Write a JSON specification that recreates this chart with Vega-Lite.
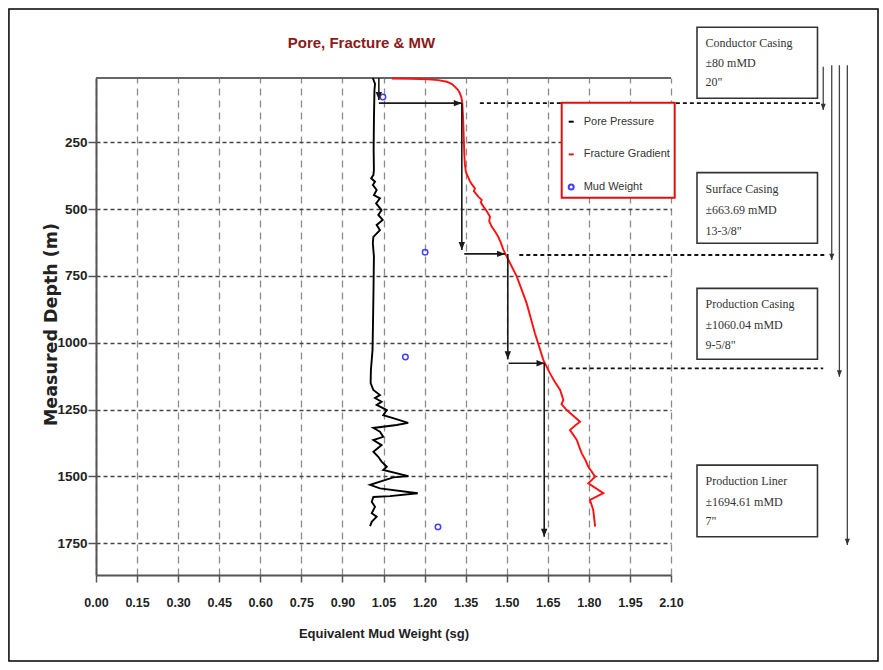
{
  "$schema": "https://vega.github.io/schema/vega-lite/v6.json",
  "autosize": {"type": "none"},
  "padding": {"left": 96, "top": 78, "right": 212, "bottom": 95},
  "width": 575,
  "height": 497,
  "background": "white",
  "title": {"text": "Pore, Fracture & MW", "font": "Liberation Sans", "fontSize": 15, "fontWeight": "bold", "color": "#8b1a1a", "anchor": "middle", "frame": "group", "dx": -22, "offset": -43},
  "datasets": {
    "frame": [{"x": -0.318, "x2": 2.856, "depth": -248, "depth2": 2191}],
    "topline": [{"x": 0, "x2": 2.1, "depth": 10}],
    "logs": [
      {"series": "Pore Pressure", "x": 1.011, "depth": 10},
      {"series": "Pore Pressure", "x": 1.015, "depth": 21},
      {"series": "Pore Pressure", "x": 1.019, "depth": 32},
      {"series": "Pore Pressure", "x": 1.017, "depth": 55},
      {"series": "Pore Pressure", "x": 1.015, "depth": 167},
      {"series": "Pore Pressure", "x": 1.014, "depth": 279},
      {"series": "Pore Pressure", "x": 1.015, "depth": 354},
      {"series": "Pore Pressure", "x": 1.013, "depth": 373},
      {"series": "Pore Pressure", "x": 1.005, "depth": 385},
      {"series": "Pore Pressure", "x": 1.019, "depth": 398},
      {"series": "Pore Pressure", "x": 1.011, "depth": 410},
      {"series": "Pore Pressure", "x": 1.025, "depth": 429},
      {"series": "Pore Pressure", "x": 1.015, "depth": 448},
      {"series": "Pore Pressure", "x": 1.037, "depth": 460},
      {"series": "Pore Pressure", "x": 1.023, "depth": 479},
      {"series": "Pore Pressure", "x": 1.043, "depth": 504},
      {"series": "Pore Pressure", "x": 1.031, "depth": 522},
      {"series": "Pore Pressure", "x": 1.047, "depth": 541},
      {"series": "Pore Pressure", "x": 1.025, "depth": 560},
      {"series": "Pore Pressure", "x": 1.037, "depth": 579},
      {"series": "Pore Pressure", "x": 1.013, "depth": 604},
      {"series": "Pore Pressure", "x": 1.011, "depth": 628},
      {"series": "Pore Pressure", "x": 1.015, "depth": 678},
      {"series": "Pore Pressure", "x": 1.013, "depth": 840},
      {"series": "Pore Pressure", "x": 1.010, "depth": 1027},
      {"series": "Pore Pressure", "x": 1.004, "depth": 1102},
      {"series": "Pore Pressure", "x": 1.003, "depth": 1151},
      {"series": "Pore Pressure", "x": 1.013, "depth": 1177},
      {"series": "Pore Pressure", "x": 1.037, "depth": 1196},
      {"series": "Pore Pressure", "x": 1.019, "depth": 1207},
      {"series": "Pore Pressure", "x": 1.043, "depth": 1221},
      {"series": "Pore Pressure", "x": 1.025, "depth": 1233},
      {"series": "Pore Pressure", "x": 1.062, "depth": 1252},
      {"series": "Pore Pressure", "x": 1.049, "depth": 1271},
      {"series": "Pore Pressure", "x": 1.085, "depth": 1282},
      {"series": "Pore Pressure", "x": 1.140, "depth": 1300},
      {"series": "Pore Pressure", "x": 1.098, "depth": 1308},
      {"series": "Pore Pressure", "x": 1.013, "depth": 1319},
      {"series": "Pore Pressure", "x": 1.037, "depth": 1333},
      {"series": "Pore Pressure", "x": 1.049, "depth": 1352},
      {"series": "Pore Pressure", "x": 1.013, "depth": 1364},
      {"series": "Pore Pressure", "x": 1.043, "depth": 1383},
      {"series": "Pore Pressure", "x": 1.013, "depth": 1408},
      {"series": "Pore Pressure", "x": 1.031, "depth": 1427},
      {"series": "Pore Pressure", "x": 1.043, "depth": 1445},
      {"series": "Pore Pressure", "x": 1.062, "depth": 1464},
      {"series": "Pore Pressure", "x": 1.049, "depth": 1476},
      {"series": "Pore Pressure", "x": 1.141, "depth": 1499},
      {"series": "Pore Pressure", "x": 1.086, "depth": 1504},
      {"series": "Pore Pressure", "x": 1.001, "depth": 1532},
      {"series": "Pore Pressure", "x": 1.037, "depth": 1545},
      {"series": "Pore Pressure", "x": 1.175, "depth": 1563},
      {"series": "Pore Pressure", "x": 1.074, "depth": 1574},
      {"series": "Pore Pressure", "x": 1.013, "depth": 1577},
      {"series": "Pore Pressure", "x": 1.007, "depth": 1595},
      {"series": "Pore Pressure", "x": 1.019, "depth": 1614},
      {"series": "Pore Pressure", "x": 1.007, "depth": 1638},
      {"series": "Pore Pressure", "x": 1.025, "depth": 1651},
      {"series": "Pore Pressure", "x": 1.007, "depth": 1670},
      {"series": "Pore Pressure", "x": 1.001, "depth": 1686},
      {"series": "Fracture Gradient", "x": 1.080, "depth": 12},
      {"series": "Fracture Gradient", "x": 1.150, "depth": 13},
      {"series": "Fracture Gradient", "x": 1.213, "depth": 15},
      {"series": "Fracture Gradient", "x": 1.250, "depth": 18},
      {"series": "Fracture Gradient", "x": 1.281, "depth": 24},
      {"series": "Fracture Gradient", "x": 1.300, "depth": 33},
      {"series": "Fracture Gradient", "x": 1.311, "depth": 43},
      {"series": "Fracture Gradient", "x": 1.322, "depth": 54},
      {"series": "Fracture Gradient", "x": 1.329, "depth": 67},
      {"series": "Fracture Gradient", "x": 1.335, "depth": 85},
      {"series": "Fracture Gradient", "x": 1.338, "depth": 105},
      {"series": "Fracture Gradient", "x": 1.341, "depth": 167},
      {"series": "Fracture Gradient", "x": 1.343, "depth": 230},
      {"series": "Fracture Gradient", "x": 1.345, "depth": 292},
      {"series": "Fracture Gradient", "x": 1.347, "depth": 330},
      {"series": "Fracture Gradient", "x": 1.351, "depth": 362},
      {"series": "Fracture Gradient", "x": 1.358, "depth": 378},
      {"series": "Fracture Gradient", "x": 1.365, "depth": 395},
      {"series": "Fracture Gradient", "x": 1.371, "depth": 405},
      {"series": "Fracture Gradient", "x": 1.384, "depth": 423},
      {"series": "Fracture Gradient", "x": 1.380, "depth": 433},
      {"series": "Fracture Gradient", "x": 1.396, "depth": 454},
      {"series": "Fracture Gradient", "x": 1.409, "depth": 466},
      {"series": "Fracture Gradient", "x": 1.405, "depth": 475},
      {"series": "Fracture Gradient", "x": 1.415, "depth": 491},
      {"series": "Fracture Gradient", "x": 1.425, "depth": 505},
      {"series": "Fracture Gradient", "x": 1.439, "depth": 529},
      {"series": "Fracture Gradient", "x": 1.436, "depth": 545},
      {"series": "Fracture Gradient", "x": 1.445, "depth": 566},
      {"series": "Fracture Gradient", "x": 1.458, "depth": 585},
      {"series": "Fracture Gradient", "x": 1.469, "depth": 604},
      {"series": "Fracture Gradient", "x": 1.478, "depth": 625},
      {"series": "Fracture Gradient", "x": 1.488, "depth": 653},
      {"series": "Fracture Gradient", "x": 1.500, "depth": 678},
      {"series": "Fracture Gradient", "x": 1.537, "depth": 753},
      {"series": "Fracture Gradient", "x": 1.573, "depth": 853},
      {"series": "Fracture Gradient", "x": 1.603, "depth": 965},
      {"series": "Fracture Gradient", "x": 1.634, "depth": 1065},
      {"series": "Fracture Gradient", "x": 1.658, "depth": 1115},
      {"series": "Fracture Gradient", "x": 1.675, "depth": 1145},
      {"series": "Fracture Gradient", "x": 1.695, "depth": 1177},
      {"series": "Fracture Gradient", "x": 1.707, "depth": 1214},
      {"series": "Fracture Gradient", "x": 1.700, "depth": 1230},
      {"series": "Fracture Gradient", "x": 1.719, "depth": 1252},
      {"series": "Fracture Gradient", "x": 1.745, "depth": 1275},
      {"series": "Fracture Gradient", "x": 1.768, "depth": 1296},
      {"series": "Fracture Gradient", "x": 1.750, "depth": 1310},
      {"series": "Fracture Gradient", "x": 1.731, "depth": 1327},
      {"series": "Fracture Gradient", "x": 1.756, "depth": 1364},
      {"series": "Fracture Gradient", "x": 1.765, "depth": 1390},
      {"series": "Fracture Gradient", "x": 1.774, "depth": 1414},
      {"series": "Fracture Gradient", "x": 1.788, "depth": 1440},
      {"series": "Fracture Gradient", "x": 1.798, "depth": 1464},
      {"series": "Fracture Gradient", "x": 1.823, "depth": 1501},
      {"series": "Fracture Gradient", "x": 1.798, "depth": 1526},
      {"series": "Fracture Gradient", "x": 1.853, "depth": 1563},
      {"series": "Fracture Gradient", "x": 1.804, "depth": 1588},
      {"series": "Fracture Gradient", "x": 1.816, "depth": 1626},
      {"series": "Fracture Gradient", "x": 1.823, "depth": 1688}
    ],
    "mud": [
      {"series": "Mud Weight", "x": 1.048, "depth": 81},
      {"series": "Mud Weight", "x": 1.202, "depth": 662},
      {"series": "Mud Weight", "x": 1.130, "depth": 1054},
      {"series": "Mud Weight", "x": 1.249, "depth": 1689}
    ],
    "arrows": [
      {"x": 1.033, "depth": 10, "x2": 1.033, "depth2": 92, "dir": "down"},
      {"x": 1.033, "depth": 104, "x2": 1.336, "depth2": 104, "dir": "right"},
      {"x": 1.336, "depth": 104, "x2": 1.336, "depth2": 653, "dir": "down"},
      {"x": 1.345, "depth": 668, "x2": 1.494, "depth2": 668, "dir": "right"},
      {"x": 1.504, "depth": 668, "x2": 1.504, "depth2": 1062, "dir": "down"},
      {"x": 1.507, "depth": 1077, "x2": 1.638, "depth2": 1077, "dir": "right"},
      {"x": 1.637, "depth": 1077, "x2": 1.637, "depth2": 1726, "dir": "down"}
    ],
    "casingLines": [
      {"x": 1.402, "x2": 2.644, "depth": 104},
      {"x": 1.546, "x2": 2.668, "depth": 672},
      {"x": 1.701, "x2": 2.656, "depth": 1096}
    ],
    "rightArrows": [
      {"x": 2.656, "depth": -32, "depth2": 130},
      {"x": 2.687, "depth": -38, "depth2": 691},
      {"x": 2.715, "depth": -38, "depth2": 1127},
      {"x": 2.744, "depth": -38, "depth2": 1757}
    ],
    "boxes": [
      {"x": 2.195, "x2": 2.635, "depth": -180, "depth2": 86},
      {"x": 2.195, "x2": 2.635, "depth": 364, "depth2": 628},
      {"x": 2.195, "x2": 2.635, "depth": 797, "depth2": 1062},
      {"x": 2.195, "x2": 2.635, "depth": 1458, "depth2": 1726}
    ],
    "boxText": [
      {"x": 2.226, "depth": -120, "label": "Conductor Casing"},
      {"x": 2.226, "depth": -45, "label": "±80 mMD"},
      {"x": 2.226, "depth": 24, "label": "20\""},
      {"x": 2.226, "depth": 426, "label": "Surface Casing"},
      {"x": 2.226, "depth": 504, "label": "±663.69 mMD"},
      {"x": 2.226, "depth": 581, "label": "13-3/8\""},
      {"x": 2.226, "depth": 857, "label": "Production Casing"},
      {"x": 2.226, "depth": 934, "label": "±1060.04 mMD"},
      {"x": 2.226, "depth": 1009, "label": "9-5/8\""},
      {"x": 2.226, "depth": 1516, "label": "Production Liner"},
      {"x": 2.226, "depth": 1595, "label": "±1694.61 mMD"},
      {"x": 2.226, "depth": 1666, "label": "7\""}
    ]
  },
  "encoding": {
    "x": {
      "field": "x", "type": "quantitative",
      "scale": {"domain": [0, 2.1], "nice": false, "zero": false},
      "axis": {
        "title": "Equivalent Mud Weight (sg)",
        "values": [0, 0.15, 0.3, 0.45, 0.6, 0.75, 0.9, 1.05, 1.2, 1.35, 1.5, 1.65, 1.8, 1.95, 2.1],
        "format": ".2f",
        "grid": true, "gridDash": [7, 5], "gridColor": "#8c8c8c", "gridWidth": 1.3, "gridOpacity": 1,
        "domainColor": "#555", "domainWidth": 2,
        "tickColor": "#555", "tickWidth": 1.5, "tickSize": 7,
        "labelFont": "Liberation Sans", "labelFontSize": 12.5, "labelFontWeight": "bold", "labelColor": "#222", "labelPadding": 14.5, "labelFlush": false,
        "titleFont": "Liberation Sans", "titleFontSize": 13, "titleFontWeight": "bold", "titleColor": "#222",
        "titleBaseline": "alphabetic", "titleY": 62.5
      }
    },
    "y": {
      "field": "depth", "type": "quantitative",
      "scale": {"domain": [10, 1869], "reverse": true, "nice": false, "zero": false},
      "axis": {
        "title": "Measured Depth (m)",
        "values": [250, 500, 750, 1000, 1250, 1500, 1750],
        "format": "d",
        "grid": true, "gridDash": [4, 3], "gridColor": "#444", "gridWidth": 1.4, "gridOpacity": 1,
        "domainColor": "#555", "domainWidth": 2,
        "tickColor": "#555", "tickWidth": 1.5, "tickSize": 8,
        "labelFont": "Liberation Sans", "labelFontSize": 13.5, "labelFontWeight": "bold", "labelColor": "#222", "labelPadding": 1,
        "titleFont": "DejaVu Sans", "titleFontSize": 17.5, "titleFontWeight": "bold", "titleColor": "#222",
        "titleBaseline": "alphabetic", "titleAlign": "center", "titleAngle": -90, "titleX": -39.5, "titleY": 246
      }
    }
  },
  "layer": [
    {
      "data": {"name": "frame"},
      "mark": {"type": "rect", "fill": "transparent", "stroke": "#000", "strokeWidth": 1.5, "clip": false},
      "encoding": {"x2": {"field": "x2"}, "y2": {"field": "depth2"}}
    },
    {
      "data": {"name": "topline"},
      "mark": {"type": "rule", "color": "#666", "strokeWidth": 2},
      "encoding": {"x2": {"field": "x2"}}
    },
    {
      "data": {"name": "casingLines"},
      "mark": {"type": "rule", "color": "#111", "strokeWidth": 1.8, "strokeDash": [4, 3], "clip": false},
      "encoding": {"x2": {"field": "x2"}}
    },
    {
      "data": {"name": "logs"},
      "mark": {"type": "line", "strokeWidth": 1.9, "clip": false},
      "encoding": {
        "color": {
          "field": "series", "type": "nominal",
          "scale": {"domain": ["Pore Pressure", "Fracture Gradient", "Mud Weight"], "range": ["#000000", "#ff1010", "#4040ff"]},
          "legend": {
            "orient": "none", "legendX": 465.7, "legendY": 24.7,
            "title": " ", "titleFontSize": 6, "titlePadding": 3.5,
            "padding": 4, "strokeColor": "#e01010", "fillColor": "white",
            "labelFont": "Liberation Sans", "labelFontSize": 11, "labelColor": "#333", "labelOffset": 7,
            "rowPadding": 20.7, "symbolSize": 25, "symbolStrokeWidth": 2, "symbolType": "stroke",
            "encode": {
              "legend": {"update": {"strokeWidth": {"value": 2}}},
              "symbols": {"update": {"shape": {"signal": "datum.value === 'Mud Weight' ? 'circle' : 'stroke'"}}}
            }
          }
        },
        "order": {"field": "depth", "type": "quantitative"}
      }
    },
    {
      "data": {"name": "mud"},
      "mark": {"type": "point", "shape": "circle", "filled": false, "size": 30, "strokeWidth": 1.5, "opacity": 1},
      "encoding": {"color": {"field": "series", "type": "nominal"}}
    },
    {
      "data": {"name": "arrows"},
      "mark": {"type": "rule", "color": "#1a1a1a", "strokeWidth": 1.6},
      "encoding": {"x2": {"field": "x2"}, "y2": {"field": "depth2"}}
    },
    {
      "data": {"name": "arrows"},
      "transform": [{"filter": "datum.dir === 'down'"}],
      "mark": {"type": "point", "shape": "M -0.8 -2 L 0.8 -2 L 0 0 Z", "filled": true, "color": "#1a1a1a", "size": 64, "opacity": 1},
      "encoding": {"x": {"field": "x2", "type": "quantitative"}, "y": {"field": "depth2", "type": "quantitative"}}
    },
    {
      "data": {"name": "arrows"},
      "transform": [{"filter": "datum.dir === 'right'"}],
      "mark": {"type": "point", "shape": "M -2 -0.8 L -2 0.8 L 0 0 Z", "filled": true, "color": "#1a1a1a", "size": 64, "opacity": 1},
      "encoding": {"x": {"field": "x2", "type": "quantitative"}, "y": {"field": "depth2", "type": "quantitative"}}
    },
    {
      "data": {"name": "rightArrows"},
      "mark": {"type": "rule", "color": "#444", "strokeWidth": 1.3, "clip": false},
      "encoding": {"y2": {"field": "depth2"}}
    },
    {
      "data": {"name": "rightArrows"},
      "mark": {"type": "point", "shape": "M -0.8 -2 L 0.8 -2 L 0 0 Z", "filled": true, "color": "#333", "size": 40, "opacity": 1, "clip": false},
      "encoding": {"y": {"field": "depth2", "type": "quantitative"}}
    },
    {
      "data": {"name": "boxes"},
      "mark": {"type": "rect", "fill": "white", "stroke": "#333", "strokeWidth": 1.6, "clip": false},
      "encoding": {"x2": {"field": "x2"}, "y2": {"field": "depth2"}}
    },
    {
      "data": {"name": "boxText"},
      "mark": {"type": "text", "align": "left", "baseline": "middle", "font": "Liberation Serif", "fontSize": 12, "color": "#333", "clip": false},
      "encoding": {"text": {"field": "label"}}
    }
  ],
  "config": {"view": {"stroke": null}}
}
